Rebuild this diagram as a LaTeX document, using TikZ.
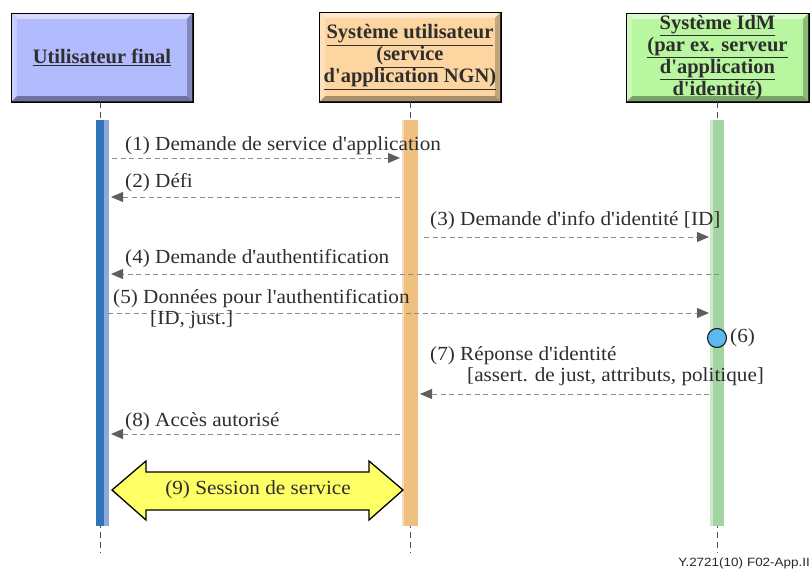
\documentclass[tikz,border=0pt]{standalone}
\usepackage{fontspec}
\setmainfont{Liberation Serif}
\newfontfamily\lblfont{Liberation Serif}[FakeStretch=1.06]
\newfontfamily\ttlfont{Liberation Serif}[FakeStretch=1.0]
\newfontfamily\reffont{Liberation Sans}[FakeStretch=1.12]
\usetikzlibrary{arrows.meta}

\definecolor{txt}{HTML}{2E2E2E}
\definecolor{msgline}{HTML}{8A8A8A}
\definecolor{msghead}{HTML}{5E5E5E}
\definecolor{userMain}{HTML}{B3BBFF}
\definecolor{userLight}{HTML}{D6DAFF}
\definecolor{userDark}{HTML}{6E73A0}
\definecolor{ngnMain}{HTML}{FDD5A0}
\definecolor{ngnLight}{HTML}{FEE8CB}
\definecolor{ngnDark}{HTML}{A8906C}
\definecolor{idmMain}{HTML}{B9F6A0}
\definecolor{idmLight}{HTML}{DAFBCC}
\definecolor{idmDark}{HTML}{78A268}
\definecolor{barBlue}{HTML}{2F74B6}
\definecolor{barBlueL}{HTML}{8EA9DA}
\definecolor{barOrange}{HTML}{F0C080}
\definecolor{barOrangeL}{HTML}{F6DDBE}
\definecolor{barGreen}{HTML}{A2D5A2}
\definecolor{barGreenL}{HTML}{CBE8CB}
\definecolor{sessionFill}{HTML}{FFFF66}
\definecolor{stepDot}{HTML}{5CB9F0}

\tikzset{
  % bevelled title box: #1 face, #2 light bevel, #3 dark bevel
  bevbox/.style n args={3}{
    fill=#3, draw=black, line width=0.9pt, inner sep=0pt, align=center,
    text=txt, font=\ttlfont\bfseries\fontsize{20.5}{22}\selectfont,
    path picture={
      \coordinate (bnw) at (path picture bounding box.north west);
      \coordinate (bne) at (path picture bounding box.north east);
      \coordinate (bsw) at (path picture bounding box.south west);
      \coordinate (bse) at (path picture bounding box.south east);
      \fill[#2] (bnw) -- (bne) -- ([shift={(-6,6)}]bne) -- ([shift={(6,6)}]bnw) -- cycle;
      \fill[#2!60!#1] (bnw) -- ([shift={(6,6)}]bnw) -- ([shift={(6,-6)}]bsw) -- (bsw) -- cycle;
      \fill[#3!70!#1] (bne) -- ([shift={(-6,6)}]bne) -- ([shift={(-6,-6)}]bse) -- (bse) -- cycle;
      \fill[#1] ([shift={(6,6)}]bnw) rectangle ([shift={(-6,-6)}]bse);
      \draw[black!85, line width=2.2pt] (bsw) -- (bse) -- (bne);
    }},
  lifeline/.style={draw=black!70, line width=0.8pt, dash pattern=on 6pt off 4pt},
  msg/.style={draw=msgline, line width=0.9pt, dash pattern=on 5pt off 3.5pt,
    -{Triangle[length=12pt,width=10pt,color=msghead,fill=msghead]}},
  lbl/.style={anchor=base west, inner sep=0pt, text=txt,
    font=\lblfont\fontsize{20}{21}\selectfont},
}

\begin{document}
\begin{tikzpicture}[x=1pt,y=-1pt]
\useasboundingbox (0,0) rectangle (811,569);

% actor boxes
\node[bevbox={userMain}{userLight}{userDark}, minimum width=182, minimum height=89] (user) at (102,57.5)
  {\underline{Utilisateur final}};
\node[bevbox={ngnMain}{ngnLight}{ngnDark}, minimum width=182, minimum height=90] (ngn) at (410,57)
  {\underline{Système utilisateur}\\\underline{(service}\\\underline{d'application NGN)}};
\node[bevbox={idmMain}{idmLight}{idmDark}, minimum width=183, minimum height=89] (idm) at (717.5,57.5)
  {\underline{Système IdM}\\\underline{(par ex. serveur}\\\underline{d'application}\\d'identité)};

% lifelines
\coordinate (uTop) at (100.5,102);  \coordinate (uBot) at (100.5,553);
\coordinate (nTop) at (410,102);    \coordinate (nBot) at (410,553);
\coordinate (iTop) at (717.5,102);  \coordinate (iBot) at (717.5,553);
\draw[lifeline] (uTop) -- (uBot);
\draw[lifeline] (nTop) -- (nBot);
\draw[lifeline] (iTop) -- (iBot);

% activation bars
\fill[barBlue] (95.5,120) rectangle (104,526);
\fill[barBlueL] (104,120) rectangle (109,526);
\fill[barOrangeL] (401.5,120) rectangle (404,526);
\fill[barOrange] (404,120) rectangle (417.5,526);
\fill[barGreenL] (710,120) rectangle (712.5,526);
\fill[barGreen] (712.5,120) rectangle (724,526);

% message end points
\coordinate (m1a) at (112,158);   \coordinate (m1b) at (400,158);
\coordinate (m2a) at (400,197);   \coordinate (m2b) at (111,197);
\coordinate (m3a) at (424,237);   \coordinate (m3b) at (709,237);
\coordinate (m4a) at (719,274);   \coordinate (m4b) at (111,274);
\coordinate (m5a) at (108,313);   \coordinate (m5b) at (709,313);
\coordinate (m7a) at (709,394);   \coordinate (m7b) at (420,394);
\coordinate (m8a) at (400,434);   \coordinate (m8b) at (111,434);

\draw[msg] (m1a) -- (m1b);
\draw[msg] (m2a) -- (m2b);
\draw[msg] (m3a) -- (m3b);
\draw[msg] (m4a) -- (m4b);
\draw[msg] (m5a) -- (m5b);
\draw[msg] (m7a) -- (m7b);
\draw[msg] (m8a) -- (m8b);

% message labels
\node[lbl] (l1) at (125,151) {(1) Demande de service d'application};
\node[lbl] (l2) at (125,188) {(2) Défi};
\node[lbl] (l3) at (430,226) {(3) Demande d'info d'identité [ID]};
\node[lbl] (l4) at (125,264) {(4) Demande d'authentification};
\node[lbl] (l5) at (113,303) {(5) Données pour l'authentification};
\node[lbl] (l5b) at (150,324) {[ID, just.]};
\node[lbl] (l7) at (430,360) {(7) Réponse d'identité};
\node[lbl] (l7b) at (467,381) {[assert. de just, attributs, politique]};
\node[lbl] (l8) at (125,426) {(8) Accès autorisé};

% local processing step
\node[circle, draw=black!90, line width=1.1pt, fill=stepDot, minimum size=19pt, inner sep=0pt] (s6) at (717,338) {};
\node[lbl, anchor=west] (l6) at (730,338) {(6)};

% service session
\draw[fill=sessionFill, draw=black, line width=1.3pt, line join=miter]
  (112,490) -- (146,461) -- (146,472) -- (369,472) -- (369,461) -- (403,490)
  -- (369,520) -- (369,510) -- (146,510) -- (146,520) -- cycle;
\node[lbl, anchor=center] (l9) at (258,490) {(9) Session de service};

% figure reference
\node[anchor=base east, inner sep=0pt, text=black!85, font=\reffont\fontsize{12}{12}\selectfont] (ref) at (810,566) {Y.2721(10)\,\,F02-App.II};
\end{tikzpicture}
\end{document}
